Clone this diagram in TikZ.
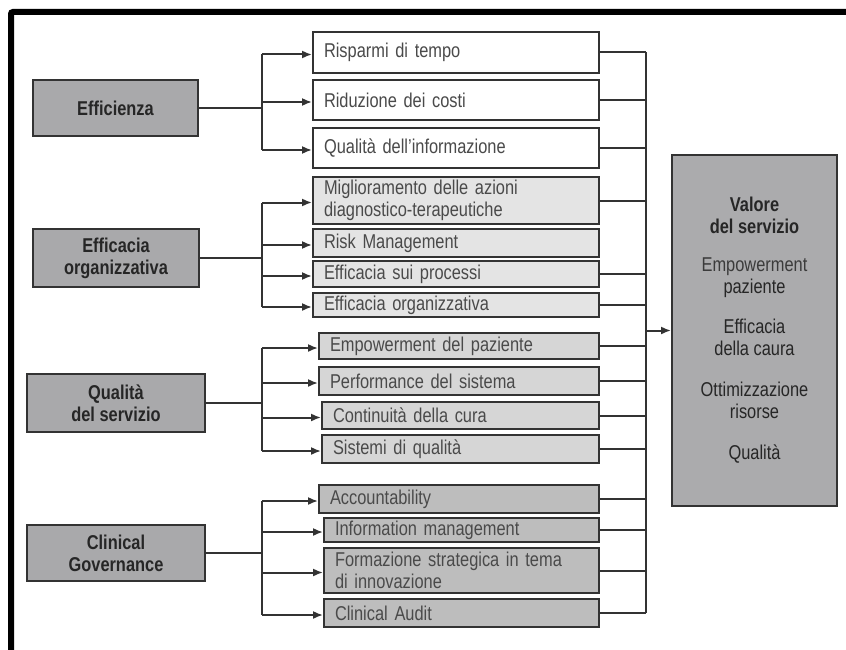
\documentclass[tikz,border=0pt]{standalone}
\usepackage{fontspec}
\setmainfont{Liberation Sans}[FakeStretch=0.82]
\usetikzlibrary{arrows.meta}
\definecolor{edge}{HTML}{333333}
\definecolor{leftfill}{HTML}{A9A9AB}
\definecolor{rightfill}{HTML}{ABABAD}
\definecolor{gA}{HTML}{FFFFFF}
\definecolor{gB}{HTML}{E4E4E4}
\definecolor{gC}{HTML}{D6D6D6}
\definecolor{gD}{HTML}{BDBDBD}
\definecolor{mtext}{HTML}{4A4A4A}
\definecolor{btext}{HTML}{262626}
\tikzset{
  lbox/.style={draw=edge, line width=1.8pt, fill=leftfill, text=btext, align=center, inner sep=0pt,
    font=\fontsize{20}{22}\selectfont\bfseries},
  mbox/.style={draw=edge, line width=1.8pt, text=mtext, align=left, inner xsep=11pt, inner ysep=0pt,
    font=\fontsize{20}{22}\selectfont},
  conn/.style={draw=edge, line width=2pt},
  arr/.style={conn, -{Latex[length=10pt,width=8pt]}},
}
\begin{document}
\begin{tikzpicture}[x=1pt,y=-1pt]
\useasboundingbox (0,0) rectangle (846,650);
% frame
\draw[line width=6pt, rounded corners=2pt] (11,660) -- (11,12) -- (860,12);

% left boxes
\node[lbox, minimum width=165pt, minimum height=56pt] (E) at (115.5,108) {Efficienza};
\node[lbox, minimum width=166pt, minimum height=58pt] (O) at (116,258) {Efficacia\\organizzativa};
\node[lbox, minimum width=178pt, minimum height=58pt] (Q) at (116,403) {Qualità\\del servizio};
\node[lbox, minimum width=178pt, minimum height=56pt] (G) at (116,553) {Clinical\\Governance};

% group 1
\node[mbox, fill=gA, text width=264pt, minimum height=41pt] (a1) at (456,52.5) {Risparmi di tempo};
\node[mbox, fill=gA, text width=264pt, minimum height=40pt] (a2) at (456,100) {Riduzione dei costi};
\node[mbox, fill=gA, text width=264pt, minimum height=40pt] (a3) at (456,148) {Qualità dell’informazione};
% group 2
\node[mbox, fill=gB, text width=264pt, minimum height=47pt] (b1) at (456,200.5) {Miglioramento delle azioni\\diagnostico-terapeutiche};
\node[mbox, fill=gB, text width=264pt, minimum height=28pt] (b2) at (456,243) {Risk Management};
\node[mbox, fill=gB, text width=264pt, minimum height=26pt] (b3) at (456,274) {Efficacia sui processi};
\node[mbox, fill=gB, text width=264pt, minimum height=24pt] (b4) at (456,305) {Efficacia organizzativa};
% group 3
\node[mbox, fill=gC, text width=258pt, minimum height=26pt] (c1) at (459,346) {Empowerment del paziente};
\node[mbox, fill=gC, text width=258pt, minimum height=28pt] (c2) at (459,381) {Performance del sistema};
\node[mbox, fill=gC, text width=255pt, minimum height=27pt] (c3) at (460.5,415.5) {Continuità della cura};
\node[mbox, fill=gC, text width=255pt, minimum height=28pt] (c4) at (460.5,449) {Sistemi di qualità};
% group 4
\node[mbox, fill=gD, text width=258pt, minimum height=28pt] (d1) at (459,499) {Accountability};
\node[mbox, fill=gD, text width=253pt, minimum height=24pt] (d2) at (461.5,530) {Information management};
\node[mbox, fill=gD, text width=253pt, minimum height=45pt] (d3) at (461.5,570.5) {Formazione strategica in tema\\di innovazione};
\node[mbox, fill=gD, text width=253pt, minimum height=28pt] (d4) at (461.5,613) {Clinical Audit};

% right box
\node[draw=edge, line width=1.8pt, fill=rightfill, minimum width=165pt, minimum height=351pt,
      align=center, inner sep=0pt, text=btext, font=\fontsize{20}{22}\selectfont] (V) at (754.5,330.5)
  {\textbf{Valore}\\\textbf{del servizio}\\[16pt]
   \color{mtext!80!black}Empowerment\\paziente\\[18pt]
   Efficacia\\della caura\\[19pt]
   Ottimizzazione\\risorse\\[19pt]
   Qualità};

% spine coordinates
\coordinate (ls) at (262,0);
\coordinate (rs) at (646,0);

% left connectors
\foreach \p/\first/\last/\kids in {E/a1/a3/{a1,a2,a3}, O/b1/b4/{b1,b2,b3,b4}, Q/c1/c4/{c1,c2,c3,c4}, G/d1/d4/{d1,d2,d3,d4}}{
  \draw[conn] (\p.east) -- (\p.east -| ls);
  \draw[conn] ([yshift=-2pt]\first.west -| ls) -- ([yshift=-2pt]\last.west -| ls);
  \foreach \k in \kids { \draw[arr] ([yshift=-2pt]\k.west -| ls) -- ([yshift=-2pt]\k.west); }
}

% right connectors
\foreach \k in {a1,a2,a3,b1,b3,b4,c1,c2,c3,c4,d1,d2,d3,d4}{
  \draw[conn] (\k.east) -- (\k.east -| rs);
}
\draw[conn] (a1.east -| rs) -- (d4.east -| rs);
\draw[arr] (V.west -| rs) -- (V.west);
\end{tikzpicture}
\end{document}
